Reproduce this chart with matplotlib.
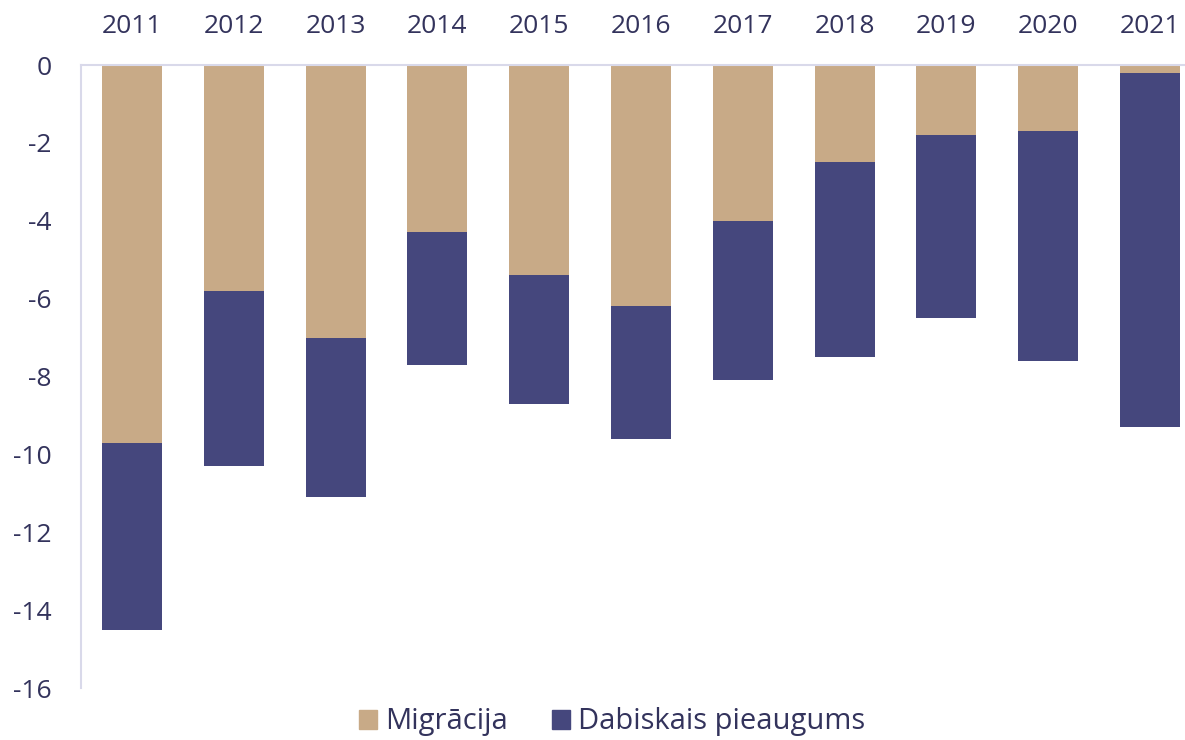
import matplotlib.pyplot as plt
import numpy as np
from matplotlib.patches import Patch

plt.rcParams["font.family"] = ["Open Sans", "DejaVu Sans"]
plt.rcParams["axes.unicode_minus"] = False

years = ["2011", "2012", "2013", "2014", "2015", "2016", "2017", "2018", "2019", "2020", "2021"]
migracija = [-9.7, -5.8, -7.0, -4.3, -5.4, -6.2, -4.0, -2.5, -1.8, -1.7, -0.2]
dabiskais = [-4.8, -4.5, -4.1, -3.4, -3.3, -3.4, -4.1, -5.0, -4.7, -5.9, -9.1]

TAN = "#c8aa87"
NAVY = "#45477d"
TEXT = "#33335c"
AXIS = "#d9d9ea"

fig = plt.figure(figsize=(11.85, 7.4), dpi=100)
ax = fig.add_axes([81 / 1185, 1 - 688 / 740, 1120 / 1185, 623 / 740])

x = np.arange(len(years))
ax.bar(x, migracija, width=0.59, color=TAN, label="Migrācija")
ax.bar(x, dabiskais, width=0.59, bottom=migracija, color=NAVY, label="Dabiskais pieaugums")

ax.set_xlim(-0.5, len(years) - 0.5)
ax.set_ylim(-16, 0)
ax.set_yticks(np.arange(-16, 1, 2))
ax.set_xticks(x)
ax.set_xticklabels(years)
ax.xaxis.tick_top()
ax.tick_params(axis="x", length=0, pad=19, labelsize=19, labelcolor=TEXT)
ax.tick_params(axis="y", length=0, pad=21, labelsize=19, labelcolor=TEXT)

for side in ["right", "bottom"]:
    ax.spines[side].set_visible(False)
ax.spines["left"].set_color(AXIS)
ax.spines["left"].set_linewidth(1.5)
ax.spines["top"].set_color(AXIS)
ax.spines["top"].set_linewidth(1.5)

handles = [Patch(color=TAN, label="Migrācija"), Patch(color=NAVY, label="Dabiskais pieaugums")]
fig.legend(handles=handles, loc="center", bbox_to_anchor=(612 / 1185, 1 - 722 / 740),
           ncol=2, frameon=False, fontsize=21, labelcolor=TEXT,
           handlelength=0.62, handleheight=0.62, handletextpad=0.28, columnspacing=1.5)

fig.savefig("out.png", dpi=100)
